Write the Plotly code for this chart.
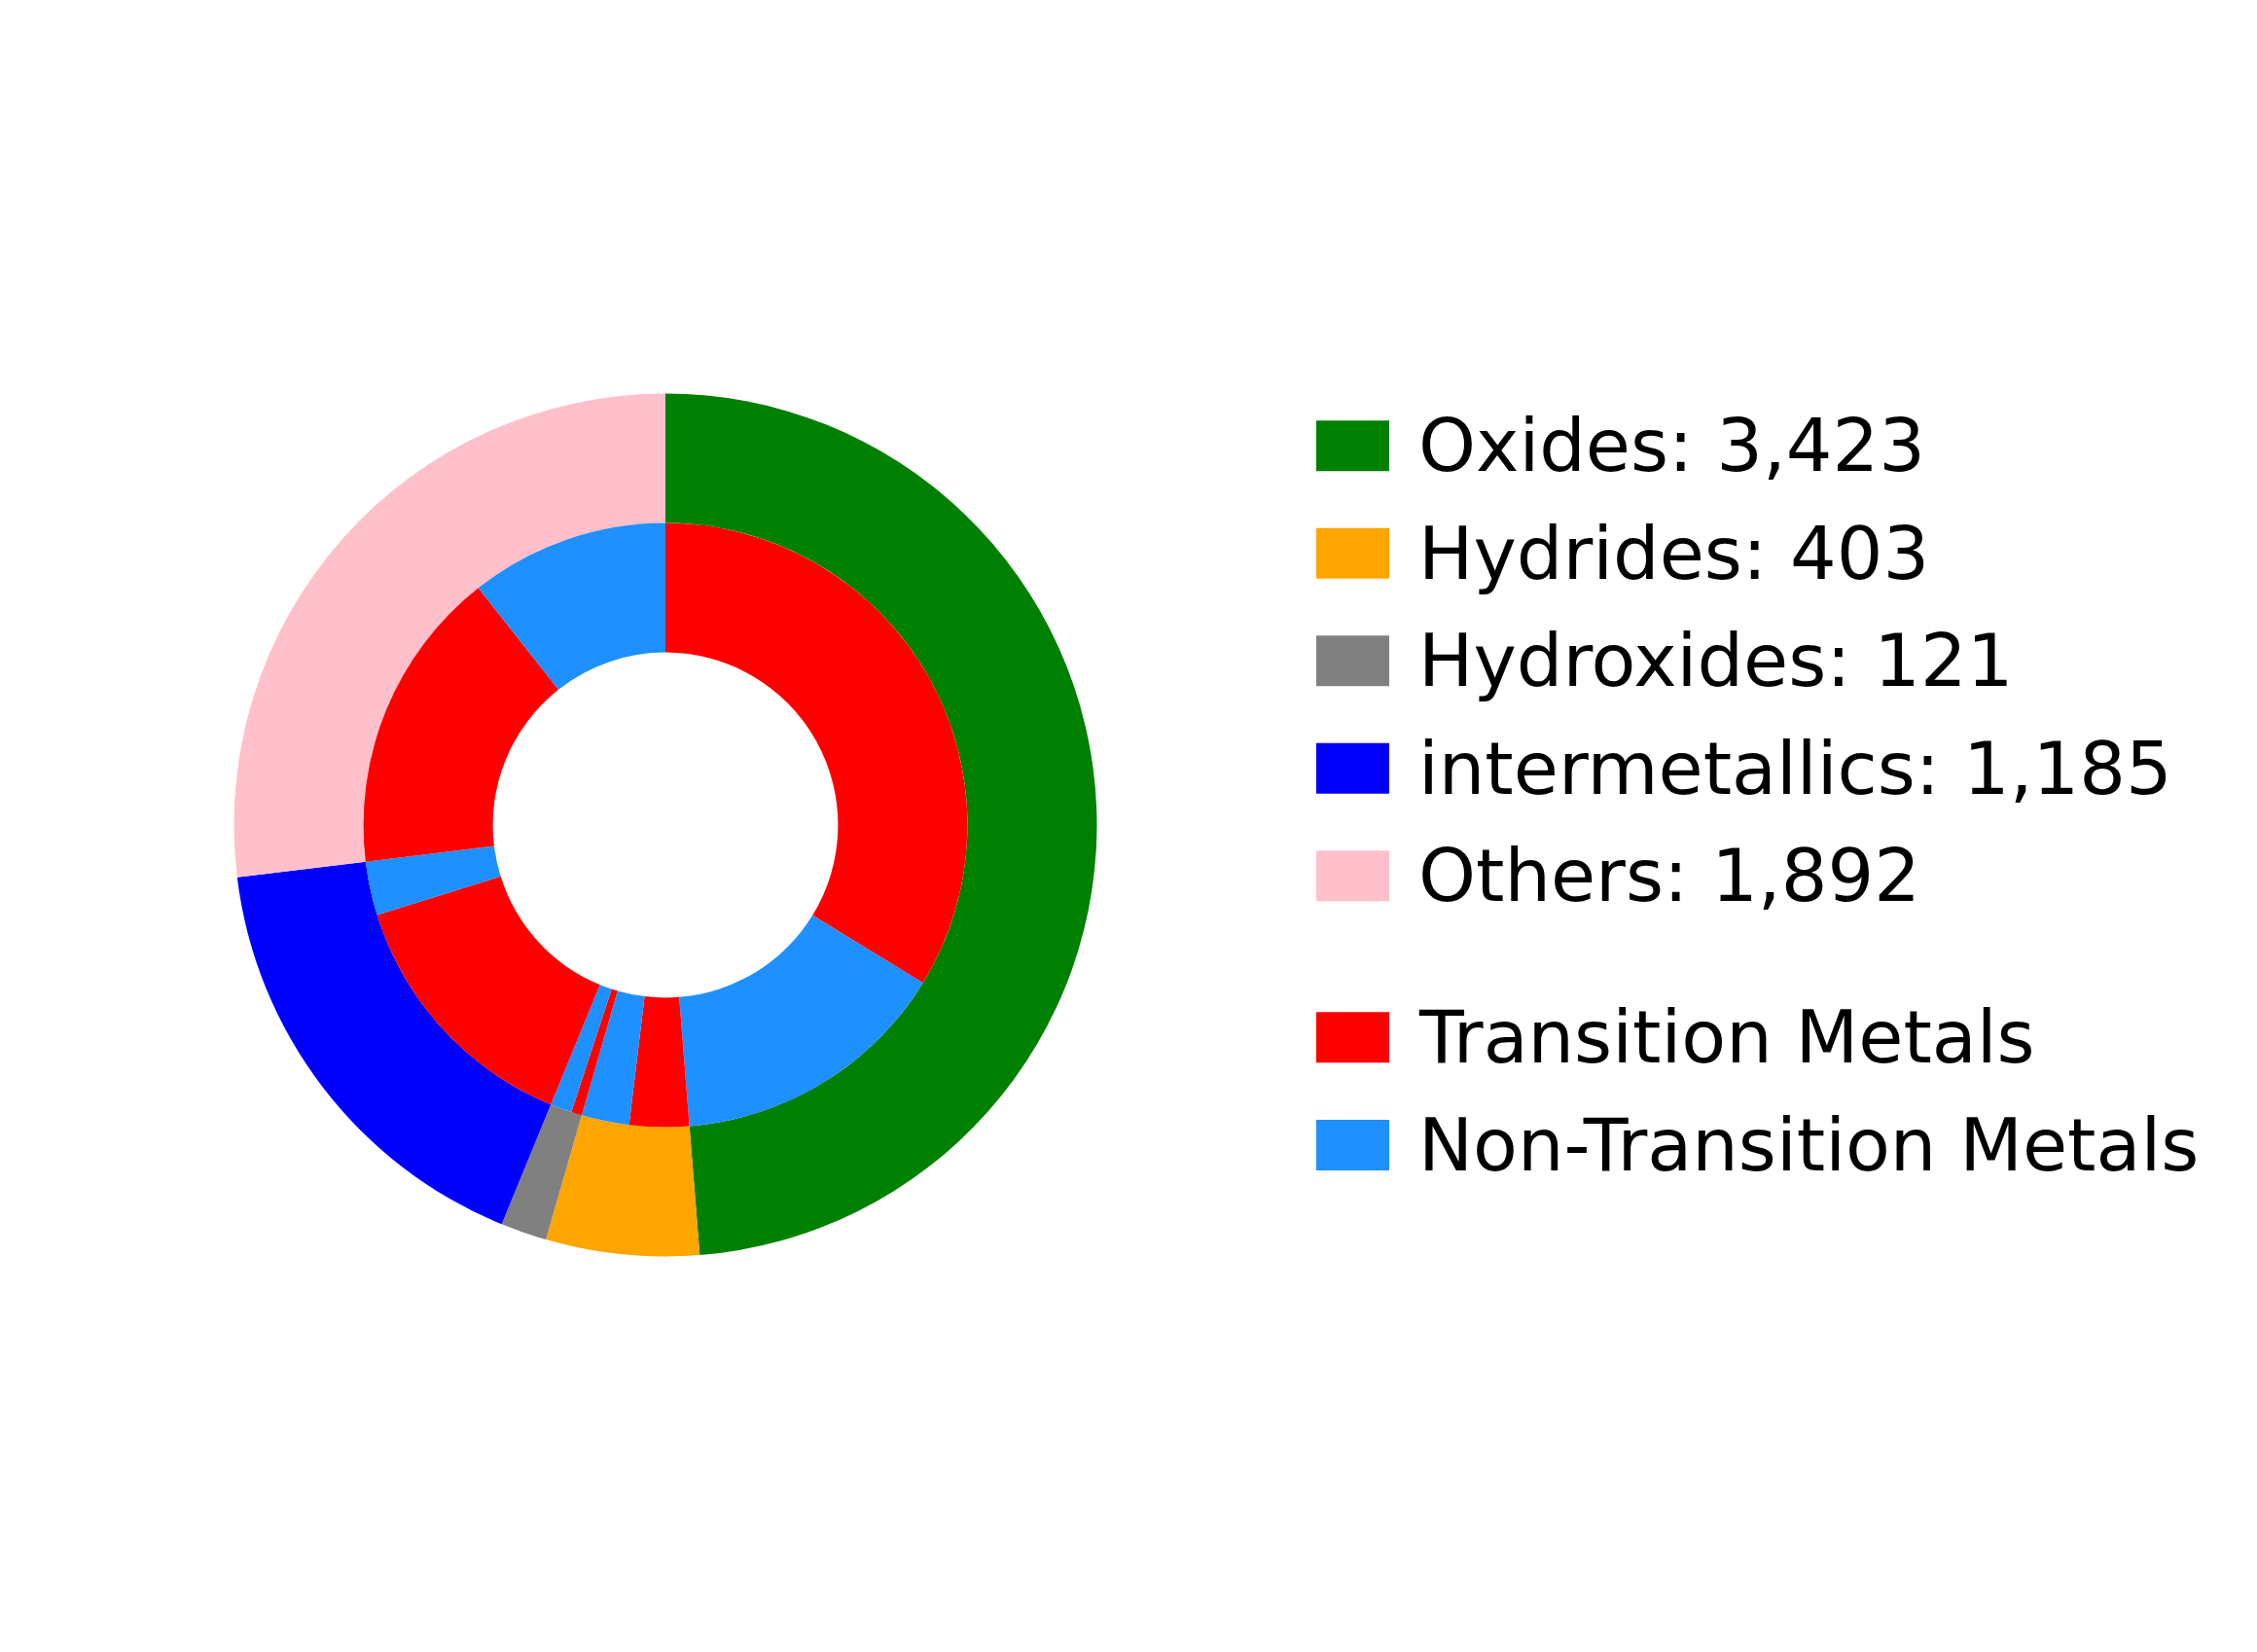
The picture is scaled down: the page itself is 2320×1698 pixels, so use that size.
import plotly.graph_objects as go

# ---- data ----
categories = ["Oxides", "Hydrides", "Hydroxides", "intermetallics", "Others"]
counts = [3423, 403, 121, 1185, 1892]
tm_counts = [2371, 224, 40, 983, 1145]      # Transition Metals share
ntm_counts = [1052, 179, 81, 202, 747]      # Non-Transition Metals share
sub_labels = ["Transition Metals", "Non-Transition Metals"]

cat_colors = ["#008000", "#FFA500", "#808080", "#0000FF", "#FFC0CB"]
sub_colors = ["#FF0000", "#1E90FF"]

# ---- layout constants (pixels, page coordinates) ----
W, H = 2320, 1698
OFF = 8                        # browser body margin offset
CX, CY = 684.0 - OFF, 848.0 - OFF   # pie centre in figure coords
R_OUT = 443.5                  # outer radius
R_MID = R_OUT * 0.7            # inner ring outer radius
R_HOLE = R_OUT * 0.4           # hole radius


def domain(r):
    return dict(x=[(CX - r) / W, (CX + r) / W],
                y=[(H - CY - r) / H, (H - CY + r) / H])


inner_labels, inner_values, inner_colors = [], [], []
for c, t, n in zip(categories, tm_counts, ntm_counts):
    inner_labels += [f"{c} - {sub_labels[0]}", f"{c} - {sub_labels[1]}"]
    inner_values += [t, n]
    inner_colors += sub_colors

fig = go.Figure()
fig.add_trace(go.Pie(
    labels=categories, values=counts, hole=R_MID / R_OUT,
    domain=domain(R_OUT), sort=False, direction="clockwise", rotation=0,
    marker=dict(colors=cat_colors, line=dict(width=0)),
    textinfo="none", showlegend=False,
))
fig.add_trace(go.Pie(
    labels=inner_labels, values=inner_values, hole=R_HOLE / R_MID,
    domain=domain(R_MID), sort=False, direction="clockwise", rotation=0,
    marker=dict(colors=inner_colors, line=dict(width=0)),
    textinfo="none", showlegend=False,
))

# ---- custom legend ----
legend_items = [(f"{c}: {v:,}", col) for c, v, col in zip(categories, counts, cat_colors)]
legend_items += list(zip(sub_labels, sub_colors))
row_y = [458.3, 568.8, 679.3, 789.8, 900.3, 1066.3, 1177.0]
SW_X0, SW_X1, SW_H = 1353, 1428, 52
TEXT_X = 1455.5

shapes, annots = [], []
for (txt, col), yc in zip(legend_items, row_y):
    yc -= OFF
    shapes.append(dict(type="rect", xref="paper", yref="paper",
                       x0=(SW_X0 - OFF) / W, x1=(SW_X1 - OFF) / W,
                       y0=1 - (yc + SW_H / 2) / H, y1=1 - (yc - SW_H / 2) / H,
                       fillcolor=col, line=dict(width=0)))
    annots.append(dict(text=txt, xref="paper", yref="paper",
                       x=(TEXT_X - OFF) / W, y=1 - yc / H, xanchor="left", yanchor="middle",
                       showarrow=False,
                       font=dict(family="DejaVu Sans", size=75, color="black")))

fig.update_layout(
    width=W, height=H, margin=dict(l=0, r=0, t=0, b=0),
    paper_bgcolor="white", plot_bgcolor="white",
    shapes=shapes, annotations=annots,
    font=dict(family="DejaVu Sans"),
)

fig.write_html("out.html")
